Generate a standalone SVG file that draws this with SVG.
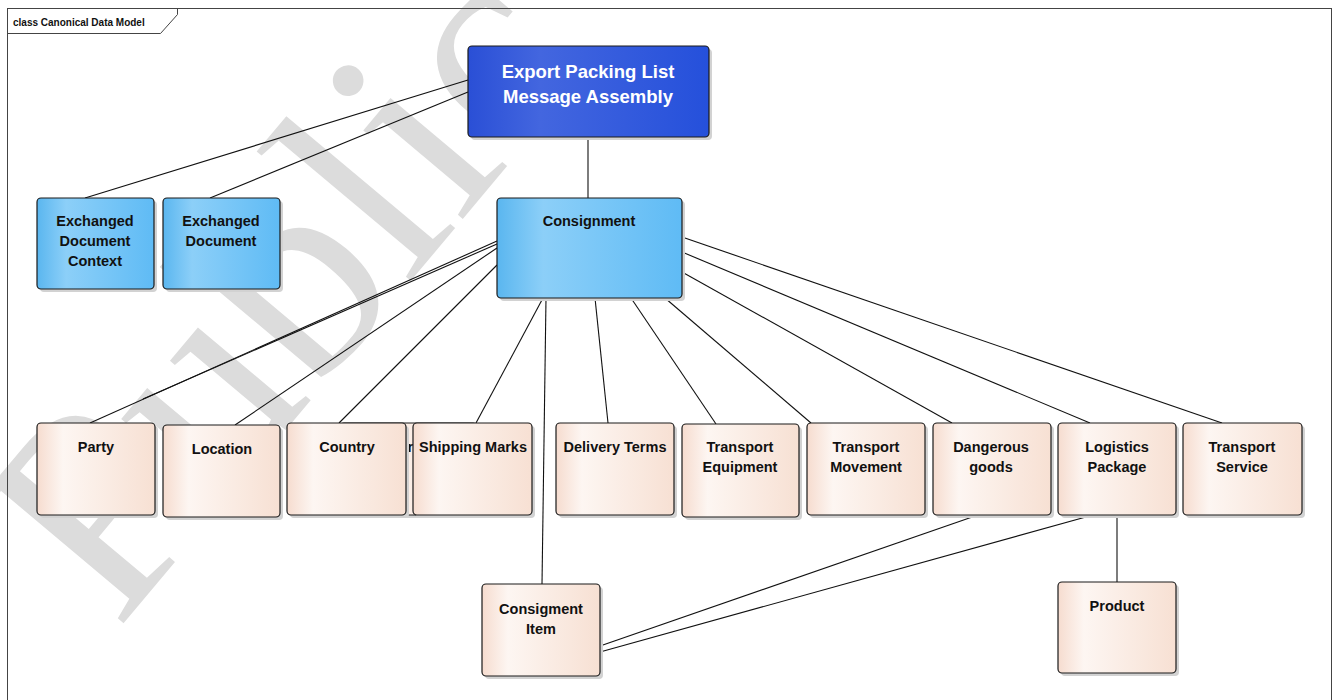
<svg xmlns="http://www.w3.org/2000/svg" width="1337" height="700" viewBox="0 0 1337 700">
<defs>
<linearGradient id="gBlue" x1="0" y1="0" x2="1" y2="0">
<stop offset="0" stop-color="#5ab6ef"/>
<stop offset="0.25" stop-color="#8ccff8"/>
<stop offset="1" stop-color="#5fbbf5"/>
</linearGradient>
<linearGradient id="gDark" x1="0" y1="0" x2="1" y2="0">
<stop offset="0" stop-color="#2a4fd6"/>
<stop offset="0.3" stop-color="#4366df"/>
<stop offset="1" stop-color="#2550db"/>
</linearGradient>
<linearGradient id="gPeach" x1="0" y1="0" x2="1" y2="0">
<stop offset="0" stop-color="#f6dccf"/>
<stop offset="0.22" stop-color="#fdf6f2"/>
<stop offset="1" stop-color="#f7e0d3"/>
</linearGradient>
<style>
.frame{fill:none;stroke:#444;stroke-width:1}
.sh{fill:#d2d2d2}
.box{stroke:#1a1a1a;stroke-width:1.2}
.blue{fill:url(#gBlue)}
.dark{fill:url(#gDark)}
.peach{fill:url(#gPeach)}
.t{font-family:"Liberation Sans",Arial,sans-serif;font-weight:bold;font-size:14.5px;fill:#111;text-anchor:middle}
.tw{font-family:"Liberation Sans",Arial,sans-serif;font-weight:bold;font-size:18.5px;fill:#fff;text-anchor:middle}
.conn line{stroke:#111;stroke-width:1.1}
.wm{font-family:"Liberation Serif","Times New Roman",serif;font-size:290px;fill:#dcdcdc}
</style>
</defs>
<rect width="1337" height="700" fill="#fff"/>
<text class="wm" transform="translate(117,631) rotate(-50)">Public</text>
<g id="frame">
<rect class="frame" x="7.5" y="8.5" width="1324" height="720"/>
<path class="frame" d="M7.5,33.5 H160.5 L177.5,14.5 V8.5" fill="none"/>
<text x="13" y="26" font-family="Liberation Sans,Arial,sans-serif" font-weight="bold" font-size="10px" fill="#111">class Canonical Data Model</text>
</g>
<g class="conn" id="connectors">
<line x1="588" y1="137" x2="588" y2="198"/>
<line x1="468" y1="80" x2="85" y2="198"/>
<line x1="468" y1="92" x2="210" y2="198"/>
<line x1="497" y1="241" x2="90" y2="423"/>
<line x1="497" y1="244" x2="143" y2="399"/>
<line x1="497" y1="248" x2="235" y2="425"/>
<line x1="497" y1="265" x2="339" y2="423"/>
<line x1="543" y1="298" x2="476" y2="423"/>
<line x1="546" y1="298" x2="542" y2="584"/>
<line x1="595" y1="298" x2="608" y2="423"/>
<line x1="631" y1="298" x2="716" y2="424"/>
<line x1="665" y1="298" x2="811" y2="423"/>
<line x1="682" y1="272" x2="952" y2="423"/>
<line x1="682" y1="252" x2="1090" y2="423"/>
<line x1="682" y1="237" x2="1222" y2="423"/>
<line x1="978" y1="515" x2="600" y2="646"/>
<line x1="1093" y1="515" x2="600" y2="652"/>
<line x1="1117" y1="515" x2="1117" y2="582"/>
</g>
<g id="hidden">
<rect class="sh" x="343" y="426" width="137" height="92" rx="4"/>
<rect class="box peach" x="340" y="423" width="137" height="92" rx="4"/>
<text class="t" x="407.5" y="452" style="text-anchor:start">r</text>
</g>
<g id="export">
<rect class="sh" x="471" y="49" width="241" height="91" rx="4"/>
<rect class="box dark" x="468" y="46" width="241" height="91" rx="4"/>
<text class="tw" x="588" y="78">Export Packing List</text>
<text class="tw" x="588" y="103">Message Assembly</text>
</g>
<g id="consignment">
<rect class="sh" x="500" y="201" width="185" height="100" rx="4"/>
<rect class="box blue" x="497" y="198" width="185" height="100" rx="4"/>
<text class="t" x="589" y="226">Consignment</text>
</g>
<g id="edc">
<rect class="sh" x="40" y="201" width="117" height="91" rx="4"/>
<rect class="box blue" x="37" y="198" width="117" height="91" rx="4"/>
<text class="t" x="95" y="226">Exchanged</text>
<text class="t" x="95" y="246">Document</text>
<text class="t" x="95" y="266">Context</text>
</g>
<g id="ed">
<rect class="sh" x="166" y="201" width="117" height="91" rx="4"/>
<rect class="box blue" x="163" y="198" width="117" height="91" rx="4"/>
<text class="t" x="221" y="226">Exchanged</text>
<text class="t" x="221" y="246">Document</text>
</g>
<g id="party">
<rect class="sh" x="40" y="426" width="118" height="92" rx="4"/>
<rect class="box peach" x="37" y="423" width="118" height="92" rx="4"/>
<text class="t" x="96" y="452">Party</text>
</g>
<g id="location">
<rect class="sh" x="166" y="428" width="117" height="92" rx="4"/>
<rect class="box peach" x="163" y="425" width="117" height="92" rx="4"/>
<text class="t" x="222" y="454">Location</text>
</g>
<g id="country">
<rect class="sh" x="290" y="426" width="119" height="92" rx="4"/>
<rect class="box peach" x="287" y="423" width="119" height="92" rx="4"/>
<text class="t" x="347" y="452">Country</text>
</g>
<g id="shipping">
<rect class="sh" x="416" y="426" width="119" height="92" rx="4"/>
<rect class="box peach" x="413" y="423" width="119" height="92" rx="4"/>
<text class="t" x="473" y="452">Shipping Marks</text>
</g>
<g id="delivery">
<rect class="sh" x="559" y="426" width="118" height="92" rx="4"/>
<rect class="box peach" x="556" y="423" width="118" height="92" rx="4"/>
<text class="t" x="615" y="452">Delivery Terms</text>
</g>
<g id="equipment">
<rect class="sh" x="685" y="427" width="117" height="93" rx="4"/>
<rect class="box peach" x="682" y="424" width="117" height="93" rx="4"/>
<text class="t" x="740" y="452">Transport</text>
<text class="t" x="740" y="472">Equipment</text>
</g>
<g id="movement">
<rect class="sh" x="810" y="426" width="118" height="92" rx="4"/>
<rect class="box peach" x="807" y="423" width="118" height="92" rx="4"/>
<text class="t" x="866" y="452">Transport</text>
<text class="t" x="866" y="472">Movement</text>
</g>
<g id="dangerous">
<rect class="sh" x="936" y="426" width="118" height="92" rx="4"/>
<rect class="box peach" x="933" y="423" width="118" height="92" rx="4"/>
<text class="t" x="991" y="452">Dangerous</text>
<text class="t" x="991" y="472">goods</text>
</g>
<g id="logistics">
<rect class="sh" x="1061" y="426" width="118" height="92" rx="4"/>
<rect class="box peach" x="1058" y="423" width="118" height="92" rx="4"/>
<text class="t" x="1117" y="452">Logistics</text>
<text class="t" x="1117" y="472">Package</text>
</g>
<g id="service">
<rect class="sh" x="1186" y="426" width="119" height="92" rx="4"/>
<rect class="box peach" x="1183" y="423" width="119" height="92" rx="4"/>
<text class="t" x="1242" y="452">Transport</text>
<text class="t" x="1242" y="472">Service</text>
</g>
<g id="item">
<rect class="sh" x="485" y="587" width="118" height="92" rx="4"/>
<rect class="box peach" x="482" y="584" width="118" height="92" rx="4"/>
<text class="t" x="541" y="614">Consigment</text>
<text class="t" x="541" y="634">Item</text>
</g>
<g id="product">
<rect class="sh" x="1061" y="585" width="118" height="91" rx="4"/>
<rect class="box peach" x="1058" y="582" width="118" height="91" rx="4"/>
<text class="t" x="1117" y="611">Product</text>
</g>
</svg>
